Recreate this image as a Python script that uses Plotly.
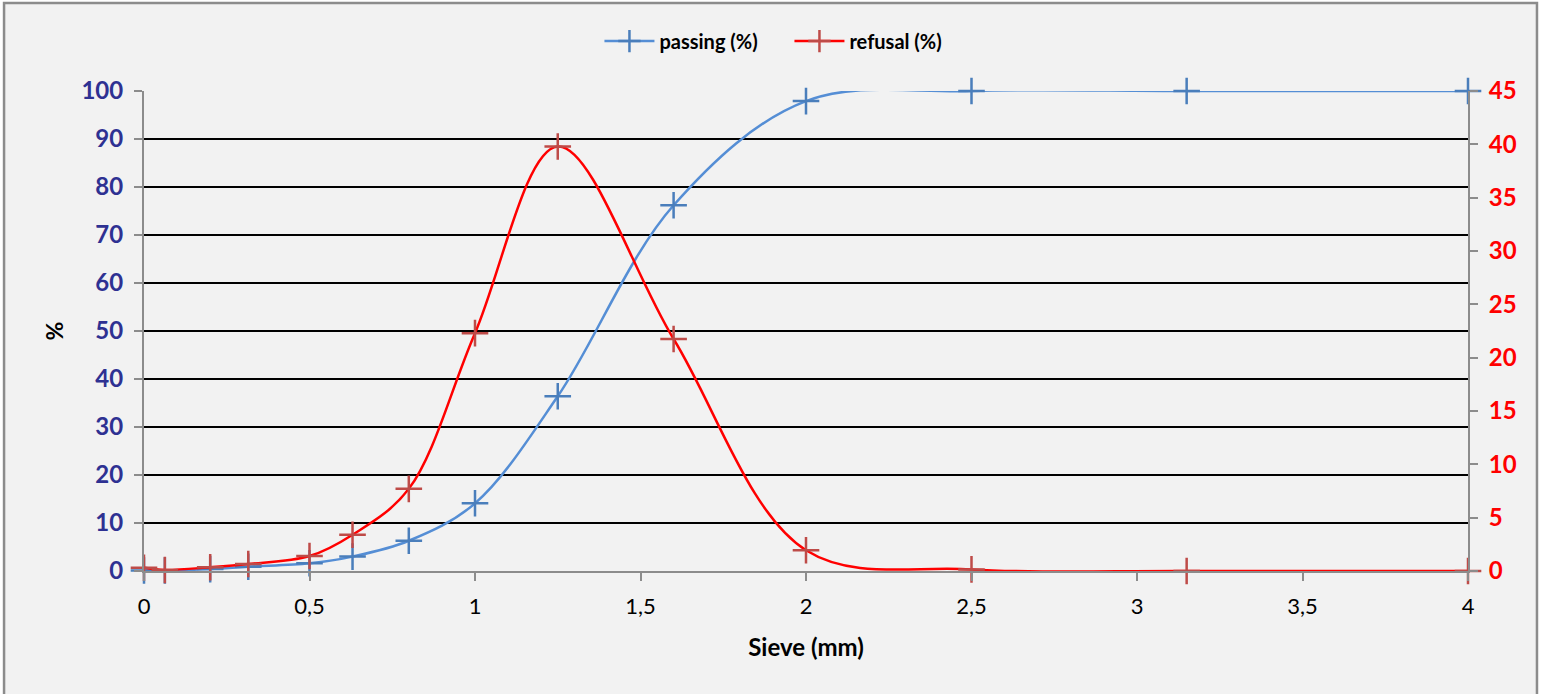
import plotly.graph_objects as go

sieve_mm = [0, 0.063, 0.2, 0.315, 0.5, 0.63, 0.8, 1, 1.25, 1.6, 2, 2.5, 3.15, 4]
passing_pct = [0.1, 0.1, 0.4, 0.9, 1.6, 3.0, 6.3, 14.1, 36.4, 76.2, 97.9, 100, 100, 100]
refusal_pct = [0.3, 0.1, 0.35, 0.65, 1.4, 3.4, 7.7, 22.3, 39.8, 21.75, 1.95, 0.15, 0, 0]

left_ticks = list(range(0, 101, 10))
right_ticks = list(range(0, 46, 5))
x_ticks = [0, 0.5, 1, 1.5, 2, 2.5, 3, 3.5, 4]

FONT = "Lato"

fig = go.Figure()
fig.add_trace(go.Scatter(
    x=sieve_mm, y=passing_pct, name="passing (%)", mode="lines+markers", cliponaxis=False,
    line=dict(color="#558ed5", width=2.5, shape="spline", smoothing=1),
    marker=dict(symbol="cross-thin", size=19, color="#4a7ebb",
                line=dict(color="#4a7ebb", width=2.5)),
))
fig.add_trace(go.Scatter(
    x=sieve_mm, y=refusal_pct, name="refusal (%)", mode="lines+markers", yaxis="y2", cliponaxis=False,
    line=dict(color="#ff0000", width=2.5, shape="spline", smoothing=1),
    marker=dict(symbol="cross-thin", size=19, color="#be4b48",
                line=dict(color="#be4b48", width=2.5)),
))

fig.add_shape(type="rect", xref="paper", yref="paper",
              x0=-0.1057, x1=1.0521, y0=-0.3, y1=1.1833,
              fillcolor="#f2f2f2", line=dict(color="#8c8c8c", width=2.5),
              layer="below")

fig.update_layout(
    width=1543, height=694,
    margin=dict(l=144, r=75, t=91, b=123),
    paper_bgcolor="white",
    plot_bgcolor="rgba(0,0,0,0)",
    separators=", ",
    font=dict(family=FONT, color="black"),
    showlegend=True,
    legend=dict(orientation="h", x=0.4875, xanchor="center", y=1.104, yanchor="middle",
                font=dict(family=FONT, size=20, color="black", weight="bold"),
                bgcolor="rgba(0,0,0,0)", itemwidth=50, entrywidth=125),
    xaxis=dict(
        range=[0, 4], tickvals=x_ticks, showgrid=False, zeroline=False,
        showline=True, linecolor="#8c8c8c", linewidth=2,
        ticks="outside", ticklen=8, tickcolor="#8c8c8c", tickwidth=2,
        ticklabelstandoff=7,
        tickfont=dict(family=FONT, size=22, color="black"),
        title=dict(text="Sieve (mm)", font=dict(family=FONT, size=24, color="black", weight="bold"), standoff=21),
    ),
    yaxis=dict(
        range=[0, 100], tickvals=left_ticks, showgrid=True, gridcolor="black", gridwidth=1.6,
        zeroline=False, showline=True, linecolor="#8c8c8c", linewidth=2,
        ticks="outside", ticklen=8, tickcolor="#8c8c8c", tickwidth=2,
        ticklabelstandoff=6,
        tickfont=dict(family=FONT, size=24, color="#2e3192", weight="bold"),
        title=dict(text="%", font=dict(family=FONT, size=23, color="black", weight="bold"), standoff=11),
    ),
    yaxis2=dict(
        range=[0, 45], tickvals=right_ticks, overlaying="y", side="right", showgrid=False,
        zeroline=False, showline=True, linecolor="#8c8c8c", linewidth=2,
        ticks="outside", ticklen=8, tickcolor="#8c8c8c", tickwidth=2,
        ticklabelstandoff=6,
        tickfont=dict(family=FONT, size=24, color="#ff0000", weight="bold"),
    ),
)

fig.write_html("out.html", config={"displayModeBar": False},
               post_script="document.body.style.margin='0';document.body.style.overflow='hidden';")
